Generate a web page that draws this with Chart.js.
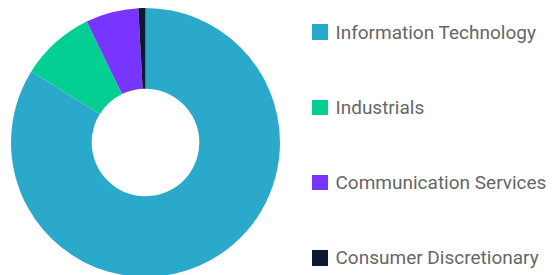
<!DOCTYPE html>
<html>
<head>
<meta charset="utf-8">
<script src="https://cdn.jsdelivr.net/npm/chart.js@4/dist/chart.umd.min.js"></script>
<style>
  html, body { margin: 0; padding: 0; width: 559px; height: 275px; overflow: hidden; background: #fff; }
  #wrap { position: absolute; left: 11px; top: 8px; width: 269px; height: 269px; }
  .item { position: absolute; left: 312px; height: 20px; display: flex; align-items: center;
          font-family: Roboto, "Liberation Sans", sans-serif; font-size: 19px; color: #666666; white-space: nowrap; }
  .box { width: 15.5px; height: 15.5px; margin-right: 8px; flex: none; }
</style>
</head>
<body>
<div id="wrap"><canvas id="c"></canvas></div>
<div id="legend"></div>
<script>
const categories = ["Information Technology", "Industrials", "Communication Services", "Consumer Discretionary"];
const weights = [83.85, 8.95, 6.35, 0.85];
const colors = ["#2ba9cb", "#03cf93", "#7835ff", "#0e1831"];

new Chart(document.getElementById('c'), {
  type: 'doughnut',
  data: {
    labels: categories,
    datasets: [{ data: weights, backgroundColor: colors, borderWidth: 0 }]
  },
  options: {
    responsive: true,
    maintainAspectRatio: false,
    animation: false,
    cutout: '40%',
    layout: { padding: 0 },
    plugins: { legend: { display: false }, tooltip: { enabled: false } }
  }
});

const legend = document.getElementById('legend');
categories.forEach((name, i) => {
  const item = document.createElement('div');
  item.className = 'item';
  item.style.top = (22 + i * 75.33) + 'px';
  const box = document.createElement('span');
  box.className = 'box';
  box.style.background = colors[i];
  const txt = document.createElement('span');
  txt.textContent = name;
  item.appendChild(box);
  item.appendChild(txt);
  legend.appendChild(item);
});
</script>
</body>
</html>
